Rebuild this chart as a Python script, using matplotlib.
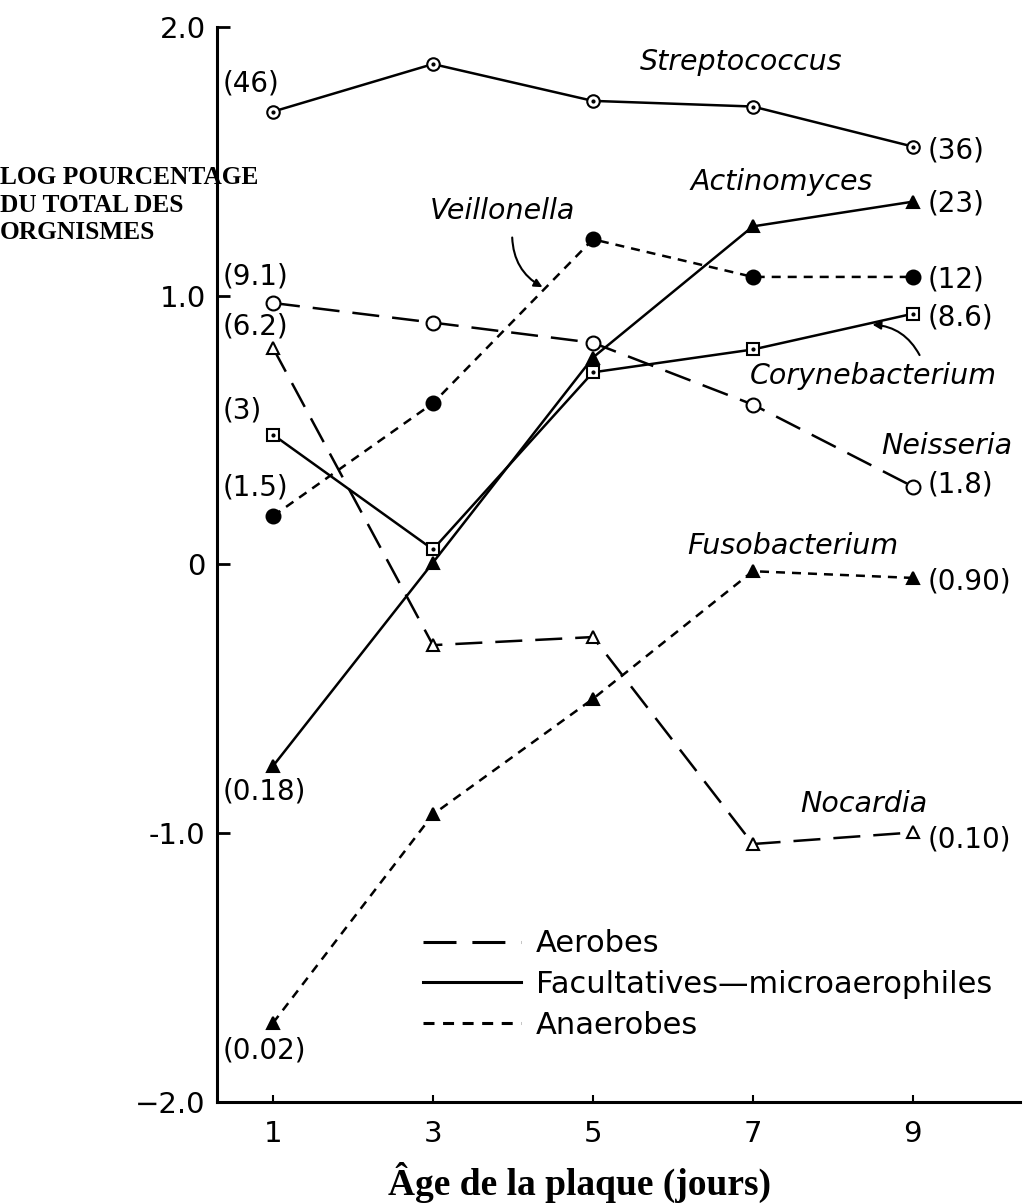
import numpy as np
import matplotlib
matplotlib.use("Agg")
import matplotlib.pyplot as plt
from matplotlib.lines import Line2D

plt.rcParams['font.family'] = ['DejaVu Sans']

# data (log10 of percentage)
days = [1, 3, 5, 7, 9]
streptococcus = [1.685, 1.862, 1.725, 1.704, 1.555]
actinomyces = [-0.75, 0.007, 0.77, 1.258, 1.35]
veillonella = [0.18, 0.60, 1.21, 1.07, 1.07]
corynebacterium = [0.483, 0.056, 0.715, 0.80, 0.933]
neisseria = [0.973, 0.90, 0.825, 0.595, 0.29]
nocardia = [0.806, -0.30, -0.27, -1.04, -0.997]
fusobacterium = [-1.706, -0.93, -0.50, -0.025, -0.05]

left_labels = ['(46)', '(9.1)', '(6.2)', '(3)', '(1.5)', '(0.18)', '(0.02)']
left_label_y = [1.79, 1.07, 0.885, 0.573, 0.286, -0.844, -1.807]
right_labels = ['(36)', '(23)', '(12)', '(8.6)', '(1.8)', '(0.90)', '(0.10)']
right_label_y = [1.539, 1.342, 1.059, 0.918, 0.297, -0.063, -1.022]

yticks = [-2, -1, 0, 1, 2]
ytick_labels = ['\u22122.0', '-1.0', '0', '1.0', '2.0']

LW = 1.8
AERO = (0, (10.8, 5.2))
ANAE = (0, (3.6, 2.8))

fig = plt.figure(figsize=(10.24, 12.04), dpi=100)
ax = fig.add_axes([0.2116, 0.0847, 0.7845, 0.8929])

def series(y, ls, marker, filled, ms, dot=False):
    ax.plot(days, y, color='black', lw=LW, linestyle=ls, marker=marker,
            ms=ms, mfc='black' if filled else 'white', mec='black', mew=1.5,
            zorder=3)
    if dot:
        ax.plot(days, y, linestyle='none', marker='o', ms=2, color='black', zorder=4)

series(neisseria, AERO, 'o', False, 10)
series(nocardia, AERO, '^', False, 8)
series(veillonella, ANAE, 'o', True, 10)
series(fusobacterium, ANAE, '^', True, 8)
series(streptococcus, '-', 'o', False, 9, dot=True)
series(actinomyces, '-', '^', True, 8)
series(corynebacterium, '-', 's', False, 8.5, dot=True)

# value labels
for t, y in zip(left_labels, left_label_y):
    ax.text(0.375, y, t, fontsize=20, ha='left', va='center')
for t, y in zip(right_labels, right_label_y):
    ax.text(9.19, y, t, fontsize=20, ha='left', va='center')

# species names
sp = dict(fontsize=20.5, style='italic', ha='center', va='center')
ax.text(6.85, 1.87, 'Streptococcus', **sp)
ax.text(7.36, 1.424, 'Actinomyces', **sp)
ax.text(3.875, 1.316, 'Veillonella', **sp)
ax.text(8.51, 0.70, 'Corynebacterium', **sp)
ax.text(9.43, 0.44, 'Neisseria', **sp)
ax.text(7.5, 0.07, 'Fusobacterium', **sp)
ax.text(8.39, -0.89, 'Nocardia', **sp)

# pointers
ax.annotate('', xy=(4.4, 1.027), xytext=(3.99, 1.227),
            arrowprops=dict(arrowstyle='-|>', color='black', lw=1.5,
                            mutation_scale=12, connectionstyle='arc3,rad=0.3'))
ax.annotate('', xy=(8.46, 0.893), xytext=(9.1, 0.77),
            arrowprops=dict(arrowstyle='-|>', color='black', lw=1.5,
                            mutation_scale=12, connectionstyle='arc3,rad=0.3'))

# legend
handles = [Line2D([], [], color='black', lw=2.2, linestyle=AERO),
           Line2D([], [], color='black', lw=2.2, linestyle='-'),
           Line2D([], [], color='black', lw=2.2, linestyle=ANAE)]
ax.legend(handles, ['Aerobes', 'Facultatives\u2014microaerophiles', 'Anaerobes'],
          loc='upper left', bbox_to_anchor=(0.2568, 0.1605), frameon=False,
          fontsize=22, handlelength=3.2, handletextpad=0.5, labelspacing=0.38,
          borderpad=0, borderaxespad=0)

ax.set_xlim(0.296, 10.34)
ax.set_ylim(-2, 2)
ax.set_xticks(days)
ax.set_xticklabels([str(d) for d in days])
ax.set_yticks(yticks)
ax.set_yticklabels(ytick_labels)
ax.tick_params(axis='y', direction='in', length=9, width=2, labelsize=21, pad=8)
ax.tick_params(axis='x', direction='in', length=5, width=1.5, labelsize=21, pad=13)
for s in ['top', 'right']:
    ax.spines[s].set_visible(False)
for s in ['left', 'bottom']:
    ax.spines[s].set_linewidth(2.2)

fig.text(0.0, 1 - 166 / 1204, 'LOG POURCENTAGE\nDU TOTAL DES\nORGNISMES',
         family='Liberation Serif', weight='bold', fontsize=18.3,
         ha='left', va='top', linespacing=1.25)
fig.text(579 / 1024, 1 - 1182 / 1204, '\u00c2ge de la plaque (jours)',
         family='Liberation Serif', weight='bold', fontsize=27,
         ha='center', va='center')

fig.savefig('out.png', dpi=100)
